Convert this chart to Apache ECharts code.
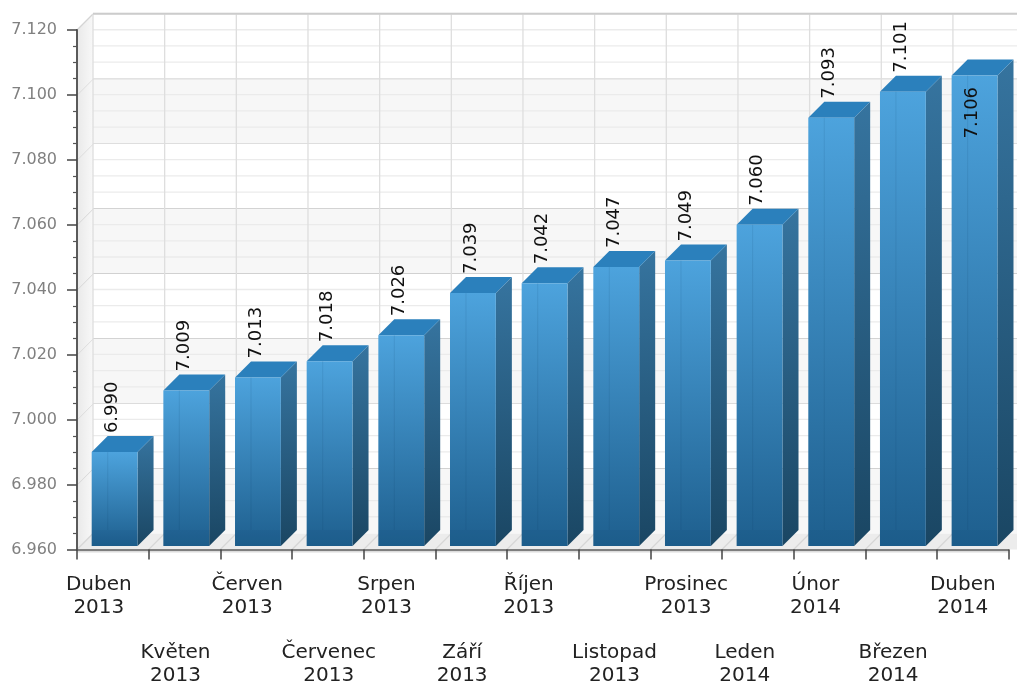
<!DOCTYPE html>
<html><head><meta charset="utf-8">
<style>html,body{margin:0;padding:0;background:#fff}#c{width:1017px;height:684px}</style>
<script src="https://cdn.jsdelivr.net/npm/echarts@6/dist/echarts.min.js"></script>
</head><body><div id="c"></div>
<script>
var months = ['Duben','Květen','Červen','Červenec','Srpen','Září','Říjen','Listopad','Prosinec','Leden','Únor','Březen','Duben'];
var years = [2013,2013,2013,2013,2013,2013,2013,2013,2013,2014,2014,2014,2014];
var values = [6.990,7.009,7.013,7.018,7.026,7.039,7.042,7.047,7.049,7.060,7.093,7.101,7.106];
var yTicks = [6.96,6.98,7.00,7.02,7.04,7.06,7.08,7.10,7.12];
var yMinor = [6.965,6.97,6.975,6.985,6.99,6.995,7.005,7.01,7.015,7.025,7.03,7.035,7.045,7.05,7.055,7.065,7.07,7.075,7.085,7.09,7.095,7.105,7.11,7.115];
// horizontal nudge of each axis label relative to its category centre
var labelNudge = [-14,-9,-9,1,-13,-9,-14,0,0,-13,-14,-8,-10];

var D = 16;      // 3D depth in px
var WD = 16.5;   // depth of the wall grid lines
var INSET = 3.5; // bars stand this far behind the front edge

function pts(arr){return {points:arr};}
function grad(x0,y0,x1,y1,a,b){return new echarts.graphic.LinearGradient(x0,y0,x1,y1,[{offset:0,color:a},{offset:1,color:b}]);}

var chart = echarts.init(document.getElementById('c'),null,{renderer:'canvas'});
chart.setOption({
  animation:false,
  backgroundColor:'#fff',
  grid:{left:77,right:8.4,top:30,bottom:134.5,outerBoundsMode:'none'},
  xAxis:{
    type:'category',
    data:months.map(function(m,i){
      var n=labelNudge[i]*2, top=i%2?68:0;
      return {value:m+'\n'+years[i],textStyle:{padding:[top,n<0?-n:0,0,n>0?n:0]}};
    }),
    axisLine:{lineStyle:{color:'#5a5a5a',width:1.5}},
    axisTick:{show:true,length:10,alignWithLabel:false,lineStyle:{color:'#444',width:1.5}},
    axisLabel:{interval:0,margin:24,fontFamily:'DejaVu Sans',fontSize:20,lineHeight:23,color:'#222',hideOverlap:false},
    splitLine:{show:false},z:5
  },
  yAxis:{
    type:'value',min:6.96,max:7.12,interval:0.02,
    axisLine:{show:true,lineStyle:{color:'#5a5a5a',width:2}},
    axisTick:{show:true,length:10,lineStyle:{color:'#444',width:1.5}},
    minorTick:{show:true,splitNumber:4,length:4,lineStyle:{color:'#555',width:1.2}},
    axisLabel:{margin:20,fontFamily:'DejaVu Sans',fontSize:16,color:'#808080',formatter:function(v){return v.toFixed(3);}},
    splitLine:{show:false},z:5
  },
  series:[
    { // alternating bands on the back wall plus major grid lines and left wall
      type:'custom',silent:true,z:1,clip:false,
      data:yTicks.slice(0,-1).map(function(v,i){return [0,v,yTicks[i+1],i];}),
      renderItem:function(p,api){
        var v0=api.value(1),v1=api.value(2),idx=api.value(3);
        var a=api.coord([0,v0]),b=api.coord([0,v1]);
        var gl=p.coordSys.x,gr=p.coordSys.x+p.coordSys.width;
        var kids=[];
        kids.push({type:'rect',shape:{x:gl+D,y:b[1]-WD,width:1017-gl-D,height:a[1]-b[1]},style:{fill:idx%2?'#ffffff':'#f7f7f7'}});
        kids.push({type:'polygon',shape:pts([[gl,a[1]],[gl+D,a[1]-D],[gl+D,b[1]-D],[gl,b[1]]]),style:{fill:grad(0,0,1,0,'#e9e9e9','#f8f8f8')}});
        kids.push({type:'line',shape:{x1:gl,y1:b[1],x2:gl+D,y2:b[1]-D},style:{stroke:'#d4d4d4',lineWidth:1.2}});
        kids.push({type:'line',shape:{x1:gl+D,y1:b[1]-WD,x2:1017,y2:b[1]-WD},style:{stroke:'#c4c4c4',lineWidth:1.4}});
        if(idx==0){
          kids.push({type:'polygon',shape:pts([[gl,a[1]],[gl+D,a[1]-D],[1017,a[1]-D],[1017,a[1]],[gr,a[1]]]),style:{fill:'#ececec'}});
          kids.push({type:'line',shape:{x1:gl,y1:a[1]+2,x2:gr,y2:a[1]+2},style:{stroke:'#dcdcdc',lineWidth:2}});
        }
        return {type:'group',children:kids};
      }
    },
    { // minor grid lines on the back wall
      type:'custom',silent:true,z:2,clip:false,
      data:yMinor.map(function(v){return [0,v];}),
      renderItem:function(p,api){
        var a=api.coord([0,api.value(1)]),gl=p.coordSys.x;
        return {type:'line',shape:{x1:gl+D,y1:a[1]-WD,x2:1017,y2:a[1]-WD},style:{stroke:'#ebebeb',lineWidth:1.3}};
      }
    },
    { // vertical grid lines on the back wall and diagonals on the floor
      type:'custom',silent:true,z:2,clip:false,
      data:months.map(function(m,i){return [i,6.96];}),
      renderItem:function(p,api){
        var c=api.coord([api.value(0),6.96]),w=api.size([1,0])[0];
        var x=c[0]-w/2,top=p.coordSys.y;
        return {type:'group',children:[
          {type:'line',shape:{x1:x+D,y1:top-D,x2:x+D,y2:c[1]-D},style:{stroke:'#dedede',lineWidth:1.3}},
          {type:'line',shape:{x1:x,y1:c[1],x2:x+D,y2:c[1]-D},style:{stroke:'#d6d6d6',lineWidth:1.2}}
        ]};
      }
    },
    { // top border of the back wall
      type:'custom',silent:true,z:2,clip:false,
      data:[[0,7.12]],
      renderItem:function(p,api){
        var a=api.coord([0,api.value(1)]),gl=p.coordSys.x;
        return {type:'line',shape:{x1:gl+D,y1:a[1]-D,x2:1017,y2:a[1]-D},style:{stroke:'#cfcfcf',lineWidth:1.6}};
      }
    },
    { // the 3D bars
      type:'custom',name:'Hodnota',z:3,clip:false,
      data:values.map(function(v,i){return [i,v];}),
      renderItem:function(p,api){
        var i=api.value(0),v=api.value(1);
        var t=api.coord([i,v]),base=api.coord([i,6.96]);
        var w=api.size([1,0])[0];
        var bw=w*0.64,x0=t[0]-w/2+w*0.205,x1=x0+bw,y0=t[1],y1=base[1]-INSET;
        var cx=x0+bw/2;
        var inside=y0-D-60<5;
        var kids=[
          {type:'polygon',shape:pts([[x1,y0],[x1+D,y0-D],[x1+D,y1-D],[x1,y1]]),style:{fill:grad(0,0,0,1,'#36749F','#1A4663')}},
          {type:'polygon',shape:pts([[x0,y0],[x0+D,y0-D],[x1+D,y0-D],[x1,y0]]),style:{fill:'#2B80BC'}},
          {type:'rect',shape:{x:x0,y:y0,width:bw,height:y1-y0},style:{fill:grad(0,0,0,1,'#4DA3DD','#1E5F8E')}},
          {type:'rect',shape:{x:x0,y:y1-D,width:bw,height:D},style:{fill:'rgba(0,40,80,0.05)'}},
          {type:'line',shape:{x1:x0+D,y1:y0,x2:x0+D,y2:y1-D},style:{stroke:'rgba(0,50,90,0.10)',lineWidth:1}}
        ];
        kids.push({type:'text',rotation:Math.PI/2,
          x:cx-2,y:inside?y0+63:y0-19,
          style:{text:v.toFixed(3),font:'18px "DejaVu Sans"',fill:'#111',textAlign:'left',textVerticalAlign:'middle'},z2:10});
        return {type:'group',children:kids};
      }
    }
  ]
});
</script></body></html>
